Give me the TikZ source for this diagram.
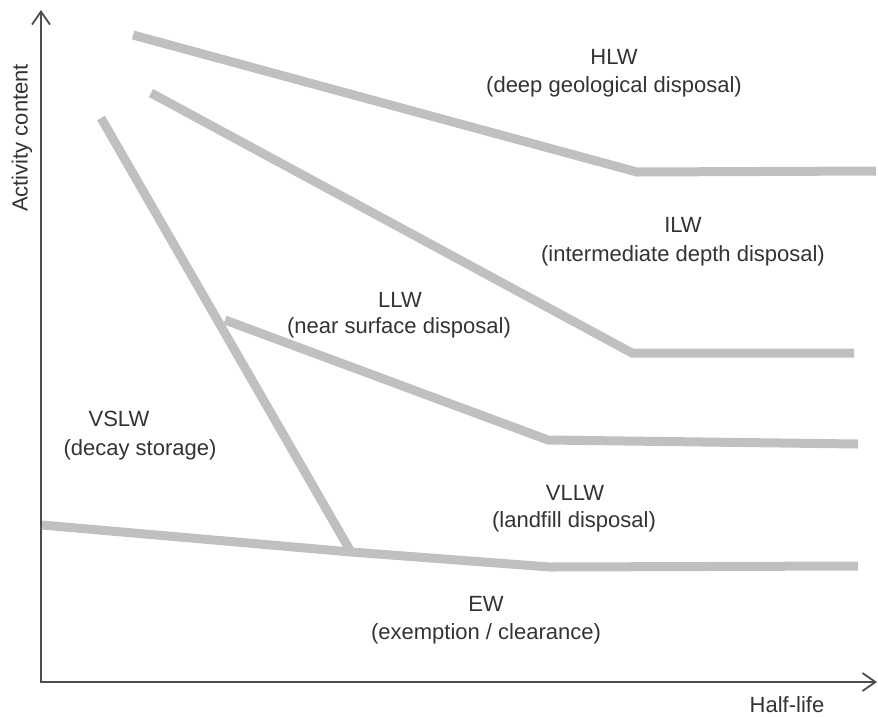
\documentclass[tikz,border=0pt]{standalone}
\usepackage{fontspec}
\setmainfont{Liberation Sans}
\usetikzlibrary{arrows.meta}
\definecolor{axisgray}{HTML}{4D4D4D}
\definecolor{bandgray}{HTML}{C0C0C0}
\definecolor{labelgray}{HTML}{333333}
\begin{document}
\begin{tikzpicture}[x=1pt,y=-1pt,
  axisline/.style={draw=axisgray,line width=2pt,
    {Straight Barb[length=13pt,width=18pt,line width=1.8pt]}-{Straight Barb[length=13pt,width=18pt,line width=1.8pt]}},
  boundary/.style={draw=bandgray,line width=9pt,line join=miter},
  classlabel/.style={text=labelgray,font=\fontsize{22}{26}\selectfont,align=center,inner sep=0pt},
  axislabel/.style={text=labelgray,font=\fontsize{22}{26}\selectfont,inner sep=0pt}]
\useasboundingbox (0,0) rectangle (878,716);

% axes
\coordinate (ytip) at (41,10);
\coordinate (origin) at (41,682);
\coordinate (xtip) at (877,682);
\draw[axisline] (ytip) -- (origin) -- (xtip);
\node[axislabel,rotate=90] (ylab) at (22,138) {Activity content};
\node[axislabel] (xlab) at (787,705) {Half-life};

% HLW / ILW boundary
\coordinate (h1) at (133,35);
\coordinate (h2) at (637,172);
\coordinate (h3) at (876,171);
\draw[boundary] (h1) -- (h2) -- (h3);

% ILW / LLW boundary
\coordinate (i1) at (151,93);
\coordinate (i2) at (632,353);
\coordinate (i3) at (854,353);
\draw[boundary] (i1) -- (i2) -- (i3);

% VSLW boundary
\coordinate (v1) at (101,118);
\coordinate (v2) at (351,552);
\draw[boundary] (v1) -- (v2);

% LLW / VLLW boundary
\coordinate (l1) at (225,320);
\coordinate (l2) at (548,440);
\coordinate (l3) at (858,444);
\draw[boundary] (l1) -- (l2) -- (l3);

% VLLW / EW boundary
\coordinate (e1) at (42,525);
\coordinate (e2) at (351,552);
\coordinate (e3) at (550,567);
\coordinate (e4) at (858,566);
\draw[boundary] (e1) -- (e2) -- (e3) -- (e4);

% waste classes
\node[classlabel] (hlw) at (614,57) {HLW};
\node[classlabel] (hlws) at (614,87) {(deep geological disposal)};
\node[classlabel] (ilw) at (683,225) {ILW};
\node[classlabel] (ilws) at (683,256) {(intermediate depth disposal)};
\node[classlabel] (llw) at (400,300) {LLW};
\node[classlabel] (llws) at (399,328) {(near surface disposal)};
\node[classlabel] (vslw) at (119,419) {VSLW};
\node[classlabel] (vslws) at (140,450) {(decay storage)};
\node[classlabel] (vllw) at (575,493) {VLLW};
\node[classlabel] (vllws) at (574,522) {(landfill disposal)};
\node[classlabel] (ew) at (486,604) {EW};
\node[classlabel] (ews) at (486,634) {(exemption / clearance)};
\end{tikzpicture}
\end{document}
